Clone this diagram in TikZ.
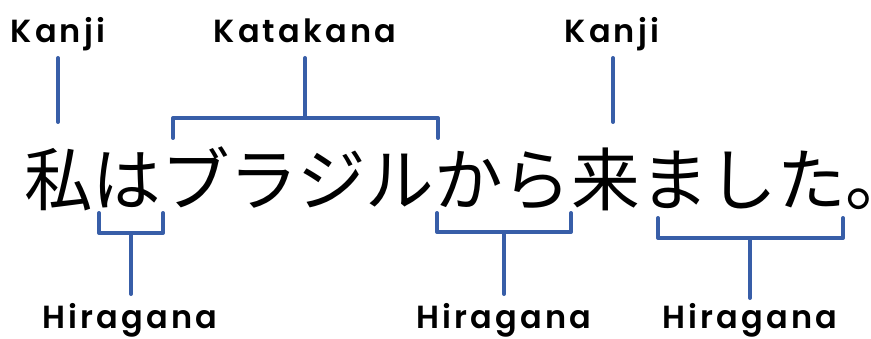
\documentclass[tikz,border=0pt]{standalone}
\usepackage{fontspec}
\newfontfamily\jpfont{Noto Sans CJK JP}
\newfontfamily\labfont{Poppins SemiBold}[LetterSpace=10]
\usetikzlibrary{calc}
\definecolor{brblue}{RGB}{56,94,168}

\begin{document}
\begin{tikzpicture}[x=1pt,y=1pt,
  lab/.style={font=\labfont\fontsize{32}{32}\selectfont,inner sep=0pt,anchor=base},
  brace/.style={draw=brblue,line width=4pt,line cap=round,line join=round}]
  \useasboundingbox (0,0) rectangle (871,338);
  % sentence
  \node [font=\jpfont\fontsize{68.6}{68.6}\selectfont,inner sep=0pt,anchor=base west] (sent)
    at (23.8,132) {私はブラジルから来ました\rlap{。}};
  % labels on top
  \node [lab] (kanjiA) at (58,295) {Kanji};
  \node [lab] (kata) at (305,295) {Katakana};
  \node [lab] (kanjiB) at (612,295) {Kanji};
  % labels below
  \node [lab] (hiraA) at (130,10) {Hiragana};
  \node [lab] (hiraB) at (504,10) {Hiragana};
  \node [lab] (hiraC) at (750,10) {Hiragana};
  % end points
  \coordinate (kA1) at (58,280);  \coordinate (kA2) at (58,216);
  \coordinate (kB1) at (613,280); \coordinate (kB2) at (613,216);
  \coordinate (ktL) at (173,200); \coordinate (ktR) at (438,200);
  \coordinate (ktS) at (305,280);
  \coordinate (hAL) at (99,125);  \coordinate (hAR) at (163,125);
  \coordinate (hAS) at (131,44);
  \coordinate (hBL) at (437,125); \coordinate (hBR) at (571,125);
  \coordinate (hBS) at (504,44);
  \coordinate (hCL) at (658,120); \coordinate (hCR) at (843,120);
  \coordinate (hCS) at (750,40);
  % kanji lines
  \draw [brace] (kA1) -- (kA2);
  \draw [brace] (kB1) -- (kB2);
  % katakana bracket
  \draw [brace] (ktL) -- ++(0,20) -| (ktR);
  \draw [brace] (ktS) -- (ktS |- 0,220);
  % hiragana brackets
  \draw [brace] (hAL) -- ++(0,-20) -| (hAR);
  \draw [brace] (hAS |- 0,105) -- (hAS);
  \draw [brace] (hBL) -- ++(0,-19) -| (hBR);
  \draw [brace] (hBS |- 0,106) -- (hBS);
  \draw [brace] (hCL) -- ++(0,-20) -| (hCR);
  \draw [brace] (hCS |- 0,100) -- (hCS);
\end{tikzpicture}
\end{document}
